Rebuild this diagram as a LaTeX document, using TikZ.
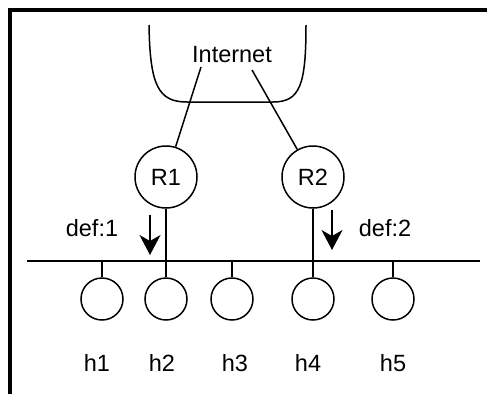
\documentclass[tikz,border=0pt]{standalone}
\usepackage{fontspec}
\setmainfont{Liberation Sans}
\usetikzlibrary{arrows.meta,positioning}

\begin{document}
\begin{tikzpicture}[x=1pt,y=-1pt,line width=1.5pt,
    font=\fontsize{23.5}{28}\selectfont,
    router/.style={circle,draw,minimum size=62pt,inner sep=0pt},
    host/.style={circle,draw,minimum size=42pt,inner sep=0pt},
    lbl/.style={inner sep=0pt},
    defarrow/.style={-{Stealth[length=20pt,width=21pt,inset=6pt]}},
  ]
  \useasboundingbox (0,0) rectangle (487,394);
  % frame
  \draw[line width=4pt] (10,394) -- (10,10) -- (487,10);
  % internet cloud
  \draw (149,25) .. controls (150,85) and (158,102) .. (187,102)
    -- (273,102) .. controls (300,102) and (306,85) .. (306,25);
  \node[lbl] (inet) at (232,55) {Internet};
  \coordinate (inetL) at (201,67);
  \coordinate (inetR) at (252,70);
  % routers
  \node[router] (r1) at (166,177) {R1};
  \node[router] (r2) at (313,177) {R2};
  \draw (inetL) -- (r1);
  \draw (inetR) -- (r2);
  % bus
  \coordinate (busL) at (27,261);
  \coordinate (busR) at (480,261);
  \draw (busL) -- (busR);
  % hosts
  \foreach \i/\x/\lx in {1/102/97,2/166/162,3/232/235,4/313/308,5/393/393} {
    \node[host] (h\i) at (\x,299) {};
    \node[lbl] (l\i) at (\lx,363) {h\i};
    \draw (h\i.north) -- (h\i.north |- busL);
  }
  \draw (r1.south) -- (r1.south |- busL);
  \draw (r2.south) -- (r2.south |- busL);
  % default routes
  \node[lbl] (d1) at (92,228) {def:1};
  \node[lbl] (d2) at (385,228) {def:2};
  \coordinate (a1s) at (150,215);
  \coordinate (a1e) at (150,255);
  \coordinate (a2s) at (332,210);
  \coordinate (a2e) at (332,250);
  \draw[defarrow] (a1s) -- (a1e);
  \draw[defarrow] (a2s) -- (a2e);
\end{tikzpicture}
\end{document}
